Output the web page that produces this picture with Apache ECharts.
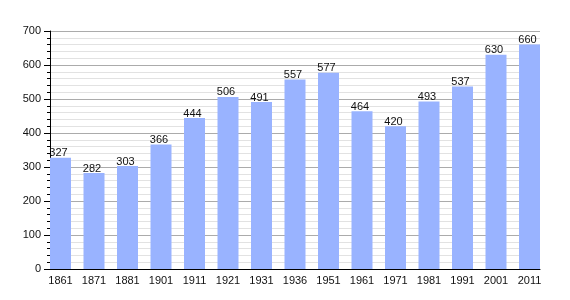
<!DOCTYPE html>
<html>
<head>
<meta charset="utf-8">
<script src="https://cdn.jsdelivr.net/npm/echarts@6/dist/echarts.min.js"></script>
<style>
html,body{margin:0;padding:0;background:#fff;}
#c{width:570px;height:300px;}
</style>
</head>
<body>
<div id="c"></div>
<script>
const years = ['1861','1871','1881','1901','1911','1921','1931','1936','1951','1961','1971','1981','1991','2001','2011'];
const population = [327,282,303,366,444,506,491,557,577,464,420,493,537,630,660];
const yTicks = [0,100,200,300,400,500,600,700];

const chart = echarts.init(document.getElementById('c'), null, {renderer:'canvas'});
const font = 'Liberation Sans, Arial, sans-serif';
chart.setOption({
  animation:false,
  backgroundColor:'#ffffff',
  grid:[
    {left:50, top:31, width:490, height:238},
    {left:43.75, top:31, width:502.5, height:238}
  ],
  xAxis:[
    {gridIndex:0, type:'category', data:years, boundaryGap:true,
     axisLine:{show:true, lineStyle:{color:'#000', width:1}},
     axisTick:{show:false}, axisLabel:{show:false}, splitLine:{show:false}},
    {gridIndex:1, type:'category', data:years, boundaryGap:true,
     axisLine:{show:false}, axisTick:{show:false}, splitLine:{show:false},
     axisLabel:{show:true, margin:6, color:'#111', fontSize:11, fontFamily:font, interval:0}}
  ],
  yAxis:[
    {gridIndex:0, type:'value', min:yTicks[0], max:yTicks[yTicks.length-1], interval:100,
     axisLine:{show:true, lineStyle:{color:'#000', width:1}},
     axisTick:{show:true, inside:false, length:6, lineStyle:{color:'#000'}},
     minorTick:{show:true, splitNumber:5, length:3, lineStyle:{color:'#000'}},
     splitLine:{show:true, lineStyle:{color:'#ababab', width:1}},
     minorSplitLine:{show:true, lineStyle:{color:'#e2e2e2', width:1}},
     axisLabel:{show:true, margin:9, color:'#111', fontSize:11, fontFamily:font}},
    {gridIndex:1, type:'value', min:yTicks[0], max:yTicks[yTicks.length-1], interval:100,
     show:false, splitLine:{show:false}}
  ],
  series:[{
    type:'bar', xAxisIndex:1, yAxisIndex:1, data:population, barWidth:21,
    itemStyle:{color:'#99b3ff'},
    label:{show:true, position:'top', distance:-1, offset:[-2,0], color:'#111', fontSize:11, fontFamily:font}
  }]
});
</script>
</body>
</html>
